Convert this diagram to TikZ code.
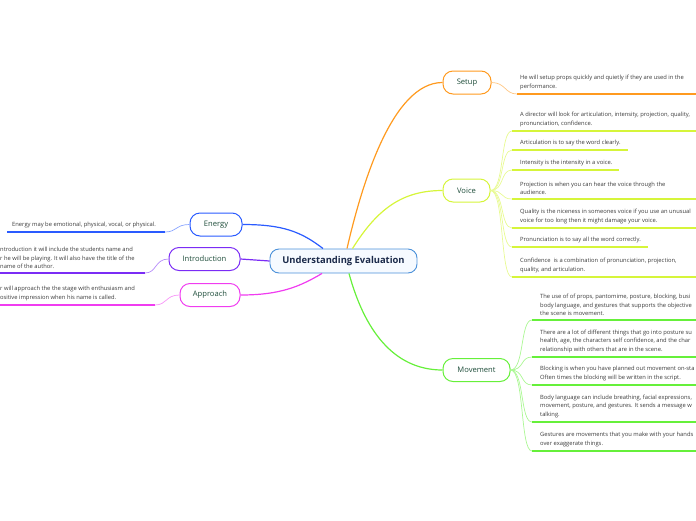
\documentclass[tikz,border=0pt]{standalone}
\usepackage{fontspec}
\setmainfont{Open Sans}
\usepackage{tikz}
\usetikzlibrary{positioning,calc}
\definecolor{navytext}{HTML}{1B2A4A}
\definecolor{leafgreen}{HTML}{1E4D3A}
\definecolor{cenblue}{HTML}{4A90D9}
\definecolor{cenfill}{HTML}{F6FAFF}
\definecolor{setuporange}{HTML}{FF9A1F}
\definecolor{voicelime}{HTML}{D6F53A}
\definecolor{movegreen}{HTML}{66F03A}
\definecolor{energyblue}{HTML}{2A5BFF}
\definecolor{intropurple}{HTML}{7B2CF5}
\definecolor{approachpink}{HTML}{F03CF0}
\definecolor{notegray}{HTML}{3A3A3A}

\begin{document}
\begin{tikzpicture}[
  x=1pt, y=-1pt,
  centerbox/.style={
    draw=cenblue, line width=0.9pt, rounded corners=9pt,
    minimum width=147pt, minimum height=24pt,
    fill=cenfill, text=navytext, font=\bfseries\fontsize{9.4}{11}\selectfont,
  },
  topicbox/.style={
    draw=#1, line width=1pt, rounded corners=10pt,
    minimum height=23pt, inner xsep=2pt,
    fill=white, text=leafgreen, font=\fontsize{7.6}{9}\selectfont,
  },
  note/.style={
    anchor=south west, inner sep=0pt, align=left,
    text=notegray, font=\fontsize{5.8}{8.7}\selectfont,
  },
  branch/.style={draw=#1, line width=1.2pt},
  twig/.style={draw=#1!55, line width=0.7pt},
  underline/.style={draw=#1, line width=1.3pt},
]
\useasboundingbox (0,0) rectangle (696,520);
\clip (0,0) rectangle (696,520);

% === CENTER ===
\node[centerbox] (cen) at (343.5,261) {Understanding Evaluation};

% === MAIN TOPICS ===
\node[topicbox=setuporange, minimum width=48pt] (setup) at (467,82.5) {Setup};
\node[topicbox=voicelime, minimum width=47pt] (voice) at (466.5,190.5) {Voice};
\node[topicbox=movegreen, minimum width=67pt] (move) at (476.5,370) {Movement};
\node[topicbox=energyblue, minimum width=52pt] (energy) at (216,224.5) {Energy};
\node[topicbox=intropurple, minimum width=71pt] (intro) at (204.5,259) {Introduction};
\node[topicbox=approachpink, minimum width=60pt] (appr) at (210,295) {Approach};

% === BRANCHES FROM CENTER ===
\draw[branch=setuporange] ([xshift=3.5pt]cen.north) .. controls +(15,-65) and +(-50,0) .. (setup.west);
\draw[branch=voicelime] ([xshift=9pt]cen.north) .. controls +(25,-40) and +(-40,0) .. (voice.west);
\draw[branch=movegreen] ([xshift=5.5pt]cen.south) .. controls +(15,55) and +(-50,0) .. (move.west);
\draw[branch=energyblue] ([xshift=-20.5pt]cen.north) .. controls +(-22,-17) and +(40,0) .. (energy.east);
\draw[branch=intropurple] (cen.west) -- (intro.east);
\draw[branch=approachpink] ([xshift=-21.5pt]cen.south) .. controls +(-22,13) and +(40,0) .. (appr.east);

% === SETUP ===
\coordinate (s1a) at (517,94);  \coordinate (s1b) at (696,94);
\draw[twig=setuporange] (setup.east) .. controls +(14,0) and +(-12,0) .. (s1a);
\draw[underline=setuporange] (s1a) -- (s1b);
\node[note] (s1) at (520,90) {He will setup props quickly and quietly if they are used in the\\performance.};

% === VOICE ===
\coordinate (v1a) at (512,131); \coordinate (v1b) at (696,131);
\coordinate (v2a) at (512,150); \coordinate (v2b) at (628,150);
\coordinate (v3a) at (512,170); \coordinate (v3b) at (619,170);
\coordinate (v4a) at (512,199); \coordinate (v4b) at (696,199);
\coordinate (v5a) at (512,228); \coordinate (v5b) at (696,228);
\coordinate (v6a) at (512,247); \coordinate (v6b) at (648,247);
\coordinate (v7a) at (512,277); \coordinate (v7b) at (696,277);
\draw[twig=voicelime] (voice.east) .. controls +(14,0) and +(-12,0) .. (v1a);
\draw[twig=voicelime] (voice.east) .. controls +(14,0) and +(-12,0) .. (v2a);
\draw[twig=voicelime] (voice.east) .. controls +(14,0) and +(-12,0) .. (v3a);
\draw[twig=voicelime] (voice.east) .. controls +(14,0) and +(-12,0) .. (v4a);
\draw[twig=voicelime] (voice.east) .. controls +(14,0) and +(-12,0) .. (v5a);
\draw[twig=voicelime] (voice.east) .. controls +(14,0) and +(-12,0) .. (v6a);
\draw[twig=voicelime] (voice.east) .. controls +(14,0) and +(-12,0) .. (v7a);
\draw[underline=voicelime] (v1a) -- (v1b);
\draw[underline=voicelime] (v2a) -- (v2b);
\draw[underline=voicelime] (v3a) -- (v3b);
\draw[underline=voicelime] (v4a) -- (v4b);
\draw[underline=voicelime] (v5a) -- (v5b);
\draw[underline=voicelime] (v6a) -- (v6b);
\draw[underline=voicelime] (v7a) -- (v7b);
\node[note] (v1) at (520,127) {A director will look for articulation, intensity, projection, quality,\\pronunciation, confidence.};
\node[note] (v2) at (520,146) {Articulation is to say the word clearly.};
\node[note] (v3) at (520,166) {Intensity is the intensity in a voice.};
\node[note] (v4) at (520,195) {Projection is when you can hear the voice through the\\audience.};
\node[note] (v5) at (520,224) {Quality is the niceness in someones voice if you use an unusual\\voice for too long then it might damage your voice.};
\node[note] (v6) at (520,243) {Pronunciation is to say all the word correctly.};
\node[note] (v7) at (520,273) {Confidence~ is a combination of pronunciation, projection,\\quality, and articulation.};

% === MOVEMENT ===
\coordinate (m1a) at (532,320); \coordinate (m1b) at (696,320);
\coordinate (m2a) at (532,357); \coordinate (m2b) at (696,357);
\coordinate (m3a) at (532,385); \coordinate (m3b) at (696,385);
\coordinate (m4a) at (532,422); \coordinate (m4b) at (696,422);
\coordinate (m5a) at (532,451); \coordinate (m5b) at (696,451);
\draw[twig=movegreen] (move.east) .. controls +(14,0) and +(-12,0) .. (m1a);
\draw[twig=movegreen] (move.east) .. controls +(14,0) and +(-12,0) .. (m2a);
\draw[twig=movegreen] (move.east) .. controls +(14,0) and +(-12,0) .. (m3a);
\draw[twig=movegreen] (move.east) .. controls +(14,0) and +(-12,0) .. (m4a);
\draw[twig=movegreen] (move.east) .. controls +(14,0) and +(-12,0) .. (m5a);
\draw[underline=movegreen] (m1a) -- (m1b);
\draw[underline=movegreen] (m2a) -- (m2b);
\draw[underline=movegreen] (m3a) -- (m3b);
\draw[underline=movegreen] (m4a) -- (m4b);
\draw[underline=movegreen] (m5a) -- (m5b);
\node[note] (m1) at (540,316) {The use of of props, pantomime, posture, blocking, busi\\body language, and gestures that supports the objective\\the scene is movement.};
\node[note] (m2) at (540,353) {There are a lot of different things that go into posture su\\health, age, the characters self confidence, and the char\\relationship with others that are in the scene.};
\node[note] (m3) at (540,381) {Blocking is when you have planned out movement on-sta\\Often times the blocking will be written in the script.};
\node[note] (m4) at (540,418) {Body language can include breathing, facial expressions,\\movement, posture, and gestures. It sends a message w\\talking.};
\node[note] (m5) at (540,447) {Gestures are movements that you make with your hands\\over exaggerate things.};

% === LEFT SIDE ===
\coordinate (e1a) at (165,232); \coordinate (e1b) at (7,232);
\draw[twig=energyblue] (energy.west) .. controls +(-14,0) and +(12,0) .. (e1a);
\draw[underline=energyblue] (e1a) -- (e1b);
\node[note] (e1) at (12,228) {Energy may be emotional, physical, vocal, or physical.};

\coordinate (i1a) at (145,273); \coordinate (i1b) at (0,273);
\draw[twig=intropurple] (intro.west) .. controls +(-14,0) and +(12,0) .. (i1a);
\draw[underline=intropurple] (i1a) -- (i1b);
\node[note] (i1) at (0,269) {ntroduction it will include the students name and\\r he will be playing. It will also have the title of the\\name of the author.};

\coordinate (a1a) at (155,305); \coordinate (a1b) at (0,305);
\draw[twig=approachpink] (appr.west) .. controls +(-14,0) and +(12,0) .. (a1a);
\draw[underline=approachpink] (a1a) -- (a1b);
\node[note] (a1) at (0,301) {r will approach the the stage with enthusiasm and\\ositive impression when his name is called.};

\end{tikzpicture}
\end{document}
